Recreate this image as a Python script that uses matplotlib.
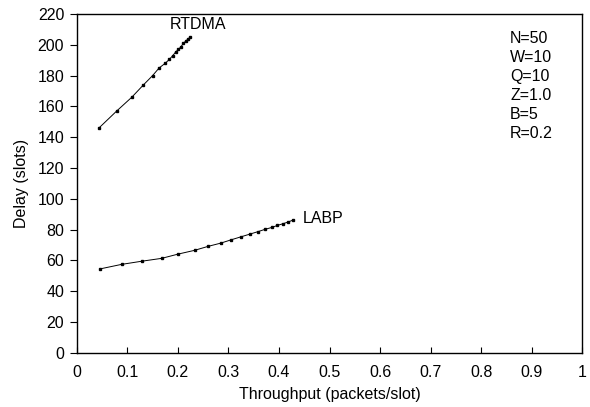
import matplotlib
matplotlib.use("Agg")
import matplotlib.pyplot as plt

plt.rcParams['font.family'] = ['Liberation Sans', 'DejaVu Sans']

# ---------------- data ----------------
rtdma_thr = [0.044, 0.079, 0.109, 0.132, 0.150, 0.163, 0.175, 0.183, 0.190,
             0.196, 0.201, 0.206, 0.211, 0.216, 0.221, 0.224]
rtdma_delay = [146, 157, 166, 174, 180, 185, 188, 190.5, 193,
               195.5, 197, 198.7, 201, 202.6, 204, 205]

labp_thr = [0.047, 0.089, 0.130, 0.168, 0.201, 0.233, 0.260, 0.285, 0.306,
            0.325, 0.343, 0.358, 0.372, 0.386, 0.397, 0.408, 0.418, 0.428]
labp_delay = [54.5, 57.4, 59.5, 61.3, 64.1, 66.5, 69.1, 71.2, 73.4,
              75.3, 77.1, 78.6, 80.1, 81.4, 82.7, 83.8, 84.9, 86.2]

params = ["N=50", "W=10", "Q=10", "Z=1.0", "B=5", "R=0.2"]
x_ticks = [0, 0.1, 0.2, 0.3, 0.4, 0.5, 0.6, 0.7, 0.8, 0.9, 1]
x_labels = ["0", "0.1", "0.2", "0.3", "0.4", "0.5", "0.6", "0.7", "0.8", "0.9", "1"]
y_ticks = list(range(0, 221, 20))

fs = 11.5

# ---------------- plot ----------------
fig = plt.figure(figsize=(5.9, 4.07), dpi=100)
ax = fig.add_axes([0.130, 0.1334, 0.857, 0.832])

ax.plot(rtdma_thr, rtdma_delay, color='black', lw=0.7, marker='s', ms=1.7)
ax.plot(labp_thr, labp_delay, color='black', lw=0.7, marker='s', ms=1.7)

ax.text(0.184, 213, "RTDMA", fontsize=fs, va='center', ha='left')
ax.text(0.447, 87.4, "LABP", fontsize=fs, va='center', ha='left')

for i, p in enumerate(params):
    ax.text(0.857, 204 - i * 12.3, p, fontsize=fs, va='center', ha='left')

ax.set_xlim(0, 1)
ax.set_ylim(0, 220)
ax.set_xticks(x_ticks)
ax.set_xticklabels(x_labels)
ax.set_yticks(y_ticks)
ax.tick_params(axis='x', direction='in', length=4, labelsize=fs, pad=9)
ax.tick_params(axis='y', direction='out', length=5, labelsize=fs, pad=4)
for s in ax.spines.values():
    s.set_linewidth(1.0)

ax.set_xlabel("Throughput (packets/slot)", fontsize=fs, labelpad=5)
ax.set_ylabel("Delay (slots)", fontsize=fs, labelpad=6)

plt.savefig("out.png", dpi=100)
